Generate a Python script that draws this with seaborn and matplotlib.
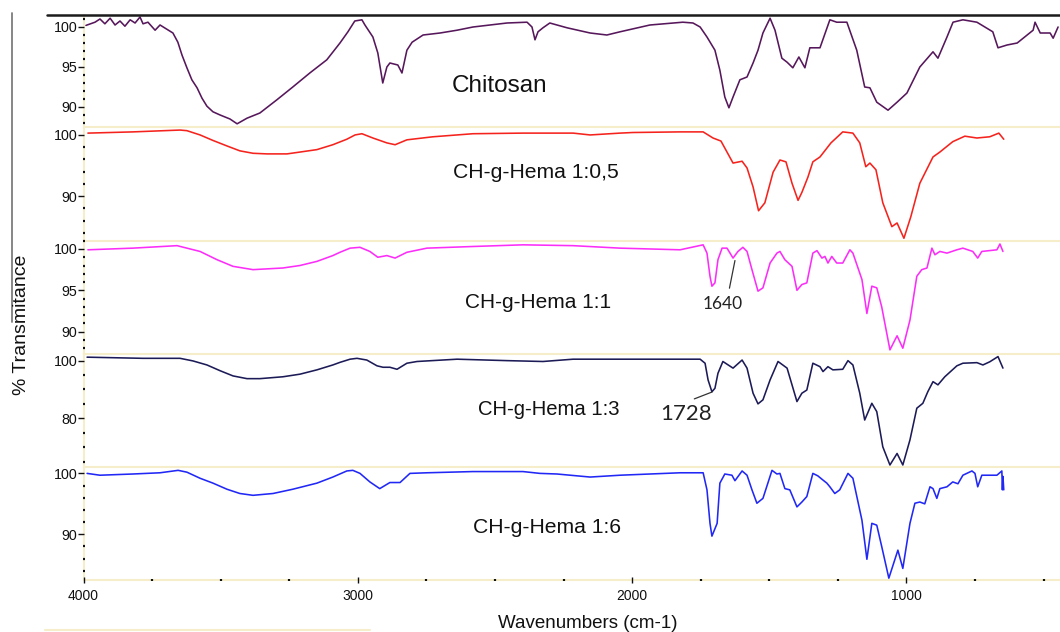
import numpy as np
import pandas as pd
import matplotlib
matplotlib.use("Agg")
import matplotlib.pyplot as plt
import seaborn as sns
from matplotlib.ticker import MultipleLocator, FixedLocator
from matplotlib.lines import Line2D

# ---------------- spectra (wavenumber in cm-1, transmittance in %) ----------------
chitosan_wn = [3991, 3958, 3940, 3922, 3903, 3885, 3867, 3849, 3830, 3812, 3794, 3783, 3765,
               3739, 3721, 3674, 3656, 3641, 3623, 3605, 3586, 3568, 3550, 3528, 3502, 3466,
               3440, 3404, 3357, 3295, 3237, 3175, 3113, 3065, 3036, 3011, 2985, 2974, 2945,
               2927, 2909, 2894, 2883, 2854, 2839, 2821, 2802, 2762, 2700, 2638, 2580, 2456,
               2383, 2365, 2354, 2343, 2325, 2300, 2237, 2153, 2092, 2044, 1935, 1815, 1778,
               1752, 1727, 1698, 1680, 1662, 1647, 1632, 1607, 1581, 1559, 1541, 1523, 1497,
               1479, 1454, 1435, 1414, 1392, 1370, 1352, 1315, 1279, 1254, 1217, 1181, 1152,
               1133, 1108, 1067, 1034, 998, 951, 903, 885, 852, 830, 794, 743, 685, 666, 633,
               596, 538, 531, 512, 476, 465, 447]
chitosan_t = [100.2, 100.6, 101.0, 100.4, 101.1, 100.25, 100.75, 100.1, 100.9, 100.5, 101.25,
              100.4, 100.6, 99.6, 100.25, 99.25, 98.1, 96.5, 94.9, 93.4, 92.4, 91.1, 90.1,
              89.4, 89.0, 88.5, 87.9, 88.6, 89.25, 90.9, 92.5, 94.25, 95.9, 98.0, 99.4, 100.75,
              100.9, 100.25, 98.75, 96.75, 93.0, 95.0, 95.5, 95.25, 94.25, 97.1, 98.1, 99.0,
              99.25, 99.6, 100.0, 100.5, 100.6, 100.0, 98.4, 99.4, 99.9, 100.5, 99.9, 99.25,
              99.0, 99.4, 100.25, 100.6, 100.5, 100.0, 98.75, 97.1, 94.6, 91.25, 89.9, 91.25,
              93.4, 93.75, 95.5, 97.1, 99.25, 101.1, 99.6, 96.1, 95.6, 94.9, 96.25, 94.9, 97.4,
              97.4, 100.9, 100.6, 100.6, 97.1, 92.5, 92.4, 90.6, 89.6, 90.6, 91.75, 95.0, 96.9,
              96.1, 98.75, 100.6, 100.9, 100.6, 99.4, 97.4, 97.75, 98.0, 99.6, 100.6, 99.25,
              99.25, 98.6, 100.0]

hema05_wn = [3984, 3820, 3648, 3623, 3575, 3528, 3477, 3430, 3382, 3331, 3258, 3211, 3149,
             3091, 3040, 3010, 2985, 2945, 2894, 2864, 2821, 2726, 2580, 2398, 2215, 2153,
             2044, 1997, 1825, 1741, 1705, 1676, 1632, 1599, 1581, 1559, 1539, 1516, 1486,
             1461, 1439, 1417, 1395, 1381, 1359, 1341, 1315, 1275, 1232, 1195, 1170, 1148,
             1133, 1111, 1086, 1053, 1034, 1009, 984, 951, 903, 878, 831, 787, 743, 696, 663,
             645]
hema05_t = [100.3, 100.5, 100.8, 100.7, 100.0, 99.1, 98.2, 97.4, 97.0, 96.9, 96.9, 97.2, 97.6,
            98.4, 99.3, 100.0, 100.2, 99.5, 98.7, 98.4, 99.2, 99.7, 100.2, 100.3, 100.3, 100.0,
            100.3, 100.4, 100.5, 100.5, 99.5, 99.0, 95.4, 95.7, 94.6, 91.5, 87.6, 88.9, 93.9,
            95.9, 95.6, 92.1, 89.3, 90.6, 93.1, 95.6, 96.4, 98.7, 100.5, 100.3, 98.7, 94.8,
            95.4, 94.3, 88.9, 85.0, 85.6, 83.1, 86.6, 92.1, 96.4, 97.2, 98.9, 99.8, 99.5,
            99.7, 100.3, 99.3]

hema1_wn = [3984, 3820, 3659, 3575, 3513, 3455, 3382, 3273, 3211, 3149, 3091, 3065, 3028,
            2992, 2956, 2927, 2894, 2864, 2821, 2748, 2580, 2398, 2215, 2044, 1825, 1741,
            1727, 1716, 1709, 1698, 1687, 1672, 1654, 1632, 1614, 1596, 1581, 1563, 1541,
            1523, 1497, 1472, 1461, 1443, 1417, 1399, 1381, 1363, 1341, 1326, 1308, 1297,
            1286, 1272, 1254, 1232, 1206, 1195, 1162, 1144, 1126, 1108, 1090, 1060, 1034,
            1013, 987, 962, 944, 925, 907, 896, 878, 852, 816, 794, 758, 740, 725, 670, 659,
            648]
hema1_t = [99.9, 100.1, 100.4, 99.7, 98.7, 97.9, 97.5, 97.7, 98.0, 98.5, 99.2, 99.6, 100.1,
           100.2, 99.7, 99.0, 99.2, 98.9, 99.6, 100.1, 100.3, 100.5, 100.4, 100.1, 99.9, 100.5,
           99.5, 96.7, 95.5, 95.9, 98.7, 100.1, 100.1, 98.9, 99.7, 100.2, 99.7, 97.5, 94.9,
           95.3, 98.3, 99.5, 99.7, 98.7, 97.9, 95.0, 95.7, 95.9, 99.5, 99.8, 98.9, 99.1, 98.3,
           99.1, 98.3, 98.3, 99.9, 99.5, 96.3, 92.2, 95.5, 95.3, 93.0, 87.8, 89.5, 88.0, 91.4,
           96.7, 97.5, 97.7, 100.1, 99.3, 99.7, 99.5, 99.9, 100.1, 99.7, 98.9, 99.7, 99.9,
           100.6, 99.7]

hema3_wn = [3987, 3783, 3648, 3601, 3550, 3502, 3455, 3404, 3357, 3273, 3211, 3149, 3091,
            3065, 3028, 3003, 2967, 2930, 2908, 2883, 2857, 2821, 2784, 2638, 2456, 2325,
            2215, 2044, 1825, 1752, 1734, 1723, 1709, 1698, 1687, 1669, 1632, 1599, 1581,
            1559, 1541, 1523, 1497, 1468, 1435, 1399, 1381, 1363, 1341, 1315, 1304, 1286,
            1268, 1232, 1213, 1195, 1170, 1152, 1126, 1108, 1086, 1060, 1034, 1013, 987, 962,
            940, 922, 903, 885, 860, 816, 794, 743, 721, 696, 666, 648]
hema3_t = [101.2, 100.8, 100.8, 99.9, 98.5, 96.5, 94.7, 93.75, 93.75, 94.4, 95.3, 96.8, 98.5,
           99.4, 100.5, 100.8, 100.2, 98.2, 97.7, 97.7, 97.0, 99.1, 99.7, 100.5, 100.0, 99.7,
           100.5, 100.5, 100.5, 100.5, 99.1, 93.3, 89.2, 90.4, 95.6, 99.7, 97.4, 100.2, 97.4,
           88.7, 85.0, 86.4, 93.3, 99.7, 97.4, 85.8, 88.7, 89.8, 99.1, 97.9, 96.2, 97.9, 96.8,
           97.0, 100.0, 98.5, 88.7, 79.4, 85.2, 82.3, 70.1, 63.8, 67.8, 63.8, 72.5, 83.5,
           85.2, 89.2, 92.7, 91.6, 94.4, 98.2, 99.1, 99.3, 98.5, 99.6, 101.4, 97.4]

hema6_wn = [3987, 3940, 3820, 3721, 3655, 3623, 3575, 3528, 3477, 3430, 3382, 3309, 3237,
            3149, 3091, 3040, 3018, 2992, 2956, 2920, 2883, 2846, 2810, 2748, 2580, 2398,
            2336, 2274, 2153, 2044, 1825, 1741, 1727, 1716, 1709, 1690, 1680, 1662, 1636,
            1625, 1599, 1581, 1563, 1545, 1523, 1490, 1472, 1461, 1443, 1425, 1399, 1381,
            1363, 1341, 1323, 1304, 1290, 1279, 1261, 1243, 1213, 1195, 1162, 1144, 1126,
            1108, 1090, 1064, 1031, 1013, 987, 969, 951, 933, 914, 903, 889, 878, 852, 831,
            812, 794, 761, 750, 740, 725, 670, 652, 650, 648, 645]
hema6_t = [100.0, 99.7, 99.9, 100.1, 100.5, 100.2, 99.2, 98.4, 97.4, 96.7, 96.4, 96.7, 97.4,
           98.4, 99.4, 100.4, 100.5, 100.0, 98.6, 97.5, 98.5, 98.5, 100.0, 100.1, 100.3,
           100.3, 100.0, 99.9, 99.4, 99.7, 100.1, 100.1, 97.3, 91.8, 89.7, 91.8, 98.4, 99.9,
           99.7, 98.8, 100.4, 99.7, 97.3, 95.1, 95.9, 100.5, 99.9, 100.0, 97.5, 97.3, 94.5,
           95.3, 96.2, 100.0, 99.6, 98.9, 98.4, 97.8, 96.7, 97.3, 100.0, 99.2, 92.3, 85.9,
           91.8, 91.5, 88.0, 82.8, 87.4, 84.4, 91.8, 95.1, 95.3, 95.0, 97.8, 97.5, 95.9, 97.5,
           97.8, 98.6, 98.3, 99.7, 100.4, 100.0, 97.8, 99.7, 99.7, 100.4, 97.3, 99.5, 97.3]

sample_names = ["Chitosan", "CH-g-Hema 1:0,5", "CH-g-Hema 1:1", "CH-g-Hema 1:3", "CH-g-Hema 1:6"]
x_major_ticks = [4000, 3000, 2000, 1000]
x_tick_labels = ["4000", "3000", "2000", "1000"]

# ---------------- layout ----------------
W, H = 1060, 632
LEFT = 83.5
PALE = "#f6eecb"
INK = "#111111"

sns.set_style("white")
plt.rcParams["font.family"] = ["Liberation Sans", "DejaVu Sans"]

fig = plt.figure(figsize=(W / 100, H / 100), dpi=100)


def box(top, bottom):
    return [LEFT / W, 1 - bottom / H, (W - LEFT) / W, (bottom - top) / H]


panels = [
    dict(wn=chitosan_wn, t=chitosan_t, color="#56175b", top=15, bottom=127,
         ylim=(87.5, 101.5), yt=[100, 95, 90], minor=1, lab=(452, 92), fs=17.5),
    dict(wn=hema05_wn, t=hema05_t, color="#f5231d", top=127, bottom=240.7,
         ylim=(82.7, 101.3), yt=[100, 90], minor=2, lab=(453, 178), fs=15.2),
    dict(wn=hema1_wn, t=hema1_t, color="#fb2ef8", top=240.7, bottom=354,
         ylim=(87.3, 101.0), yt=[100, 95, 90], minor=1, lab=(465, 308), fs=15.0),
    dict(wn=hema3_wn, t=hema3_t, color="#1c1b57", top=354, bottom=467.3,
         ylim=(63.0, 102.3), yt=[100, 80], minor=5, lab=(478, 415), fs=14.6),
    dict(wn=hema6_wn, t=hema6_t, color="#2128f5", top=467.3, bottom=580,
         ylim=(82.5, 101.0), yt=[100, 90], minor=2, lab=(473, 533), fs=15.2),
]

axes = []
for i, p in enumerate(panels):
    ax = fig.add_axes(box(p["top"], p["bottom"]))
    df = pd.DataFrame({"wavenumber": p["wn"], "transmittance": p["t"]})
    sns.lineplot(data=df, x="wavenumber", y="transmittance", ax=ax, color=p["color"],
                 lw=1.15, sort=False, estimator=None)
    ax.set_xlim(4000, 440)
    ax.set_ylim(*p["ylim"])
    ax.set_xlabel("")
    ax.set_ylabel("")
    ax.patch.set_alpha(0)

    for s in ("top", "right"):
        ax.spines[s].set_visible(False)
    for s in ("left", "bottom"):
        ax.spines[s].set_color(PALE)
        ax.spines[s].set_linewidth(1.5)
        ax.spines[s].set_zorder(0.5)

    ax.yaxis.set_major_locator(FixedLocator(p["yt"]))
    ax.yaxis.set_minor_locator(MultipleLocator(p["minor"]))
    ax.tick_params(axis="y", which="major", left=True, direction="out", length=4.5, width=1,
                   color=INK, labelsize=10.3, pad=0, labelcolor=INK)
    ax.tick_params(axis="y", which="minor", left=True, direction="inout", length=2,
                   width=1.6, color=INK)

    ax.xaxis.set_major_locator(FixedLocator(x_major_ticks))
    ax.xaxis.set_minor_locator(MultipleLocator(250))
    if i < len(panels) - 1:
        ax.tick_params(axis="x", which="both", bottom=False, labelbottom=False)
    else:
        ax.set_xticklabels(x_tick_labels)
        ax.tick_params(axis="x", which="major", bottom=True, direction="inout", length=5,
                       width=1, color=INK, labelsize=10, pad=4, labelcolor=INK)
        ax.tick_params(axis="x", which="minor", bottom=True, direction="inout", length=2,
                       width=1.6, color=INK)

    fig.text(p["lab"][0] / W, 1 - p["lab"][1] / H, sample_names[i], fontsize=p["fs"],
             ha="left", va="baseline", color=INK)
    axes.append(ax)

# peak annotations
axes[2].annotate("1640", xy=(1625, 98.6), xytext=(1668, 93.4), fontsize=12.5,
                 family=["Lato", "DejaVu Sans"], color="#222222", ha="center", va="center",
                 arrowprops=dict(arrowstyle="-", color="#333333", lw=0.9,
                                 relpos=(0.62, 1.0), shrinkA=3, shrinkB=0))
axes[3].annotate("1728", xy=(1709, 89.1), xytext=(1803, 81.6), fontsize=16,
                 family=["Lato", "DejaVu Sans"], color="#222222", ha="center", va="center",
                 arrowprops=dict(arrowstyle="-", color="#333333", lw=0.9,
                                 relpos=(0.42, 1.0), shrinkA=3, shrinkB=0))

# frame lines around the stack
fig.add_artist(Line2D([47 / W, 1.0], [1 - 15 / H] * 2, color="#1b1b1b", lw=1.8))
fig.add_artist(Line2D([12 / W] * 2, [1 - 13 / H, 1 - 322 / H], color="#7d7d7d", lw=1.3))
fig.add_artist(Line2D([45 / W, 370 / W], [1 - 630 / H] * 2, color=PALE, lw=1.5))

fig.text(22 / W, 1 - 325 / H, "% Transmitance", rotation=90, fontsize=14,
         ha="center", va="center", color=INK)
fig.text(588 / W, 1 - 628 / H, "Wavenumbers (cm-1)", fontsize=13.5, ha="center",
         va="baseline", color=INK)

fig.savefig("out.png", dpi=100)
